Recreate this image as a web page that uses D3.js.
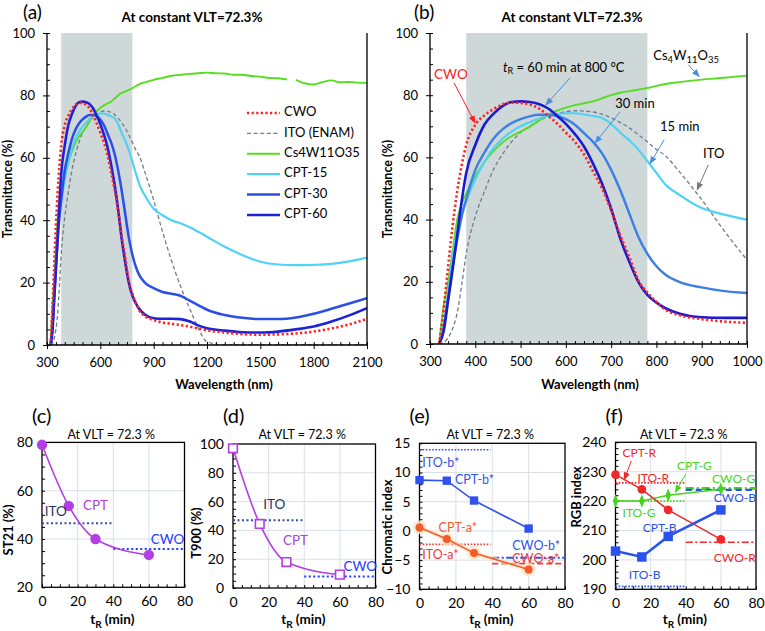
<!DOCTYPE html>
<html><head><meta charset="utf-8">
<script src="https://cdn.jsdelivr.net/npm/d3@7"></script>
<style>
body{margin:0;background:#fff;}
svg{font-family:Lato,"Open Sans",sans-serif;}
</style></head><body>
<svg id="chart" width="765" height="631"></svg>
<script>
// ---------------- DATA ----------------
const lambda = [320,330,340,350,360,370,380,400,420,440,460,480,500,520,540,560,580,600,620,640,660,680,700,720,740,760,780,800,820,850,900,950,1000,1050,1100,1150,1200,1300,1400,1500,1600,1700,1800,1900,2000,2100];
const tCWO  = [0,11,25,38,49,57.5,64,70.5,73.5,75.5,77,77.6,77.5,77,75.8,73.5,71,68,65,61,55.5,50,43,35,28,20.5,16.5,13.5,11,9.3,8,7.2,6.8,6.4,5.9,5.3,4.7,4,3.5,3.3,3.4,3.7,4.3,5.3,6.6,8.4];
const tITO  = [0,0.5,2,5,10,19,29,41,49,56,61,65,68,70,71.8,73,74,74.7,75,74.9,74.6,73.9,72.7,71.2,69.5,67.3,65,62.5,60.5,55.5,46.4,36.3,27.1,19,12,5.5,1,0,0,0,0,0,0,0,0,0];
const tCPT15 = [0,6,16,28,36,42,46,53,58.5,63,66,68.3,70,71.3,72.5,73.3,73.9,74.2,74.2,73.8,73.3,72.7,70.8,68,65.5,62.5,58.8,55,51.3,48,43.7,41.6,40,39,37.8,36.3,34.7,31.5,28.8,26.7,25.8,25.6,25.7,26,26.8,28];
const tCPT30 = [0,5,15,25,33.5,41,46.5,56,61.5,66,69,71,72.3,73.2,73.7,73.7,73.3,72.3,70.5,67.8,65,61.3,56,49.5,42,34.5,29,25,22.3,20,18.2,17,16.4,15.8,14.3,12.8,11.3,9.6,8.7,8.3,8.3,8.8,10,11.6,13.3,15];
const tCPT60 = [0,4,14,24,35,46,55,64,70.5,74,76.5,77.8,78,77.8,77.2,75.8,73.5,70.8,67.5,63.5,58,51.5,43.5,34,26.5,20,15.8,13.3,11.5,9.8,8.6,8.4,8.4,8.3,7.6,6.3,5.4,4.6,4.1,4.0,4.3,5.0,5.9,7.5,9.5,11.8];
const lambdaCs = [320,330,340,350,360,370,380,400,420,440,460,480,500,520,540,560,580,600,620,640,660,680,700,720,740,760,780,800,820,850,900,950,1000,1050,1100,1150,1200,1250,1300,1350,1400,1450,1500,1550,1600,1650,1675,1700,1750,1800,1850,1900,1950,2000,2050,2100];
const tCs = [0,12,20,30,40,45,48.5,54,58.5,62,64.8,66.8,68.3,69.8,71.7,73.6,75,76,76.8,77.4,78,79,80,80.8,81.3,81.8,82.3,83,83.6,84.2,85,85.6,86.3,86.6,86.9,87.1,87.3,87.1,87,86.6,86.6,86.2,86,85.6,85.5,85.1,null,85,83.9,83.5,84.3,84.8,84.2,84.3,84.1,84];
const visibleBand = [380, 780];

const tR = [0, 15, 30, 60];
const st21 = [79, 53.7, 40, 33.4];
const st21ITO = 46.5, st21CWO = 35.9;
const t900 = [97, 44.5, 18, 9.3];
const t900ITO = 47, t900CWO = 8;
const bStar = [8.7, 8.6, 5.2, 0.4];
const aStar = [0.6, -1.4, -3.8, -6.6];
const itoB = 13.9, itoA = -2.3, cwoB = -4.6, cwoA = -5.6;
const rgbR = [229, 224, 217, 207];
const rgbG = [220, 220, 222, 224];
const rgbB = [203, 201, 208, 217];
const itoR = 226.2, itoG = 220, itoBl = 191;
const cwoR = 206, cwoG = 224.3, cwoBl = 223.8;

// ---------------- DRAW ----------------
const svg = d3.select("#chart");
const defs = svg.append("defs");
function arrowMarker(id, color){
  defs.append("marker").attr("id", id).attr("viewBox","0 0 10 10").attr("refX",9).attr("refY",5)
    .attr("markerWidth",8).attr("markerHeight",8).attr("markerUnits","userSpaceOnUse").attr("orient","auto")
    .append("path").attr("d","M0,1 L10,5 L0,9 Z").attr("fill", color);
}
arrowMarker("arBlue","#4a8ee4"); arrowMarker("arRed","#ff2020"); arrowMarker("arGray","#6f7a80");
arrowMarker("arRedF","#f02a2a"); arrowMarker("arGreenF","#44d41e");

function txt(g, x, y, s, o={}){
  return g.append("text").attr("x",x).attr("y",y).text(s)
    .attr("font-size", o.size||13).attr("fill", o.color||"#000")
    .attr("font-weight", o.bold?"bold":"normal")
    .attr("text-anchor", o.anchor||"start")
    .attr("dominant-baseline", o.base||"middle");
}

function styleAxis(sel, size){
  sel.selectAll("text").attr("font-size", size).attr("fill","#000").attr("font-family","Lato,'Open Sans',sans-serif");
  sel.selectAll("line").attr("stroke","#000");
  sel.select(".domain").remove();
}

// ---- spectra panels ----
const seriesMain = [
  {name:"ITO (ENAM)", wl:lambda, v:tITO, color:"#6f7d8a", w:1.3, dash:"4,2.6"},
  {name:"Cs4W11O35", wl:lambdaCs, v:tCs, color:"#55dd22", w:1.9, dash:null},
  {name:"CPT-15", wl:lambda, v:tCPT15, color:"#4fd2f5", w:2.2, dash:null},
  {name:"CPT-30", wl:lambda, v:tCPT30, color:"#2b4ee6", colorB:"#3f80e4", w:2.5, dash:null},
  {name:"CPT-60", wl:lambda, v:tCPT60, color:"#1c22d8", colorB:"#1a1ad0", w:2.6, dash:null},
  {name:"CWO", wl:lambda, v:tCWO, color:"#ff2020", w:2.6, dash:"2.2,2.4"}
];

function spectra(P, xDom, xMajor, xMinorStep, panelKey){
  const g = svg.append("g");
  const x = d3.scaleLinear().domain(xDom).range([P.l, P.r]);
  const y = d3.scaleLinear().domain([0,100]).range([P.b, P.t]);
  const cid = "clip"+panelKey;
  defs.append("clipPath").attr("id",cid).append("rect")
    .attr("x",P.l).attr("y",P.t-5).attr("width",P.r-P.l).attr("height",P.b-P.t+5);
  g.append("rect").attr("x",x(visibleBand[0])).attr("y",y(100))
    .attr("width",x(visibleBand[1])-x(visibleBand[0])).attr("height",y(0)-y(100)).attr("fill","#cfd8d8");
  const lines = g.append("g").attr("clip-path","url(#"+cid+")");
  seriesMain.forEach(s=>{
    const pts = s.wl.map((w,i)=>[w, s.v[i]]).filter(d=>d[0]<=xDom[1]+100);
    const line = d3.line().defined(d=>d[1]!==null).x(d=>x(d[0])).y(d=>y(d[1])).curve(d3.curveMonotoneX);
    lines.append("path").attr("d", line(pts)).attr("fill","none")
      .attr("stroke", panelKey==="b" && s.colorB ? s.colorB : s.color)
      .attr("stroke-width", s.w).attr("stroke-dasharray", s.dash).attr("stroke-linejoin","round");
  });
  const minor = d3.range(xDom[0], xDom[1]+0.1, xMinorStep);
  const yMajor = d3.range(0,101,20), yMinor = d3.range(0,101,5);
  g.append("g").attr("transform",`translate(0,${P.b})`)
    .call(d3.axisBottom(x).tickValues(minor).tickSize(-3).tickFormat("")).call(s=>styleAxis(s,13));
  g.append("g").attr("transform",`translate(0,${P.b})`)
    .call(d3.axisBottom(x).tickValues(xMajor).tickSize(4).tickPadding(9).tickFormat(d3.format("d"))).call(s=>styleAxis(s,13));
  g.append("g").attr("transform",`translate(${P.l},0)`)
    .call(d3.axisLeft(y).tickValues(yMinor).tickSize(-3).tickFormat("")).call(s=>styleAxis(s,13));
  g.append("g").attr("transform",`translate(${P.l},0)`)
    .call(d3.axisLeft(y).tickValues(yMajor).tickSize(4).tickPadding(8)).call(s=>styleAxis(s,13));
  g.append("path").attr("d",`M${P.l},${P.t}V${P.b}H${P.r}V${P.t}`).attr("fill","none").attr("stroke","#000").attr("stroke-width",1.3);
  return {g,x,y};
}

const PA = {l:47, r:367, t:33, b:345};
const PB = {l:430, r:747, t:33, b:344};
const A = spectra(PA, [300,2100], d3.range(300,2101,300), 50, "a");
const B = spectra(PB, [300,1000], d3.range(300,1001,100), 20, "b");

txt(svg, 23, 14, "(a)", {size:19});
txt(svg, 414, 14, "(b)", {size:19});
txt(svg, 192, 19, "At constant VLT=72.3%", {size:13.5, bold:true, anchor:"middle"});
txt(svg, 572, 19, "At constant VLT=72.3%", {size:13.5, bold:true, anchor:"middle"});
[[9,189],[389,189]].forEach(p=>{
  svg.append("text").attr("transform",`translate(${p[0]},${p[1]}) rotate(-90)`).attr("text-anchor","middle")
    .attr("dominant-baseline","middle").attr("font-size",12.5).attr("font-weight","bold").text("Transmittance (%)");
});
txt(svg, 224, 386, "Wavelength (nm)", {size:13, bold:true, anchor:"middle"});
txt(svg, 590, 386, "Wavelength (nm)", {size:13, bold:true, anchor:"middle"});

// legend (a)
const legOrder = ["CWO","ITO (ENAM)","Cs4W11O35","CPT-15","CPT-30","CPT-60"];
legOrder.forEach((n,i)=>{
  const s = seriesMain.find(d=>d.name===n);
  const yy = 113 + i*20.4;
  svg.append("line").attr("x1",247).attr("x2",280).attr("y1",yy).attr("y2",yy)
    .attr("stroke",s.color).attr("stroke-width",s.w).attr("stroke-dasharray",s.dash);
  txt(svg, 284, yy, n, {size:13});
});

// annotations (b)
function arrow(sc, p0, p1, marker, color){
  svg.append("line").attr("x1",sc.x(p0[0])).attr("y1",sc.y(p0[1])).attr("x2",sc.x(p1[0])).attr("y2",sc.y(p1[1]))
    .attr("stroke",color).attr("stroke-width",1).attr("marker-end","url(#"+marker+")");
}
txt(svg, B.x(309), B.y(86.3), "CWO", {size:13.5, color:"#ff2020"});
arrow(B, [353,84], [399.5,71.1], "arRed", "#ff2020");
const tl = txt(svg, B.x(461), B.y(88.5), "", {size:13});
tl.append("tspan").attr("font-style","italic").text("t");
tl.append("tspan").attr("font-size",9).attr("dy",3).text("R");
tl.append("tspan").attr("dy",-3).text(" = 60 min at 800 °C");
arrow(B, [609.5,85.6], [555.8,76.9], "arBlue", "#4a8ee4");
const cs = txt(svg, B.x(793), B.y(92.4), "", {size:13});
[["Cs",0],["4",1],["W",0],["11",1],["O",0],["35",1]].forEach((p,i,arr)=>{
  const prev = i>0 ? arr[i-1][1] : 0;
  const dy = p[1]===prev ? 0 : (p[1] ? 4 : -4);
  const t = cs.append("tspan").attr("dy",dy).text(p[0]);
  if(p[1]) t.attr("font-size",9.5);
});
arrow(B, [870,89.8], [894.6,86], "arBlue", "#4a8ee4");
txt(svg, B.x(709), B.y(77), "30 min", {size:13});
arrow(B, [720,74.7], [664.7,64.7], "arBlue", "#4a8ee4");
txt(svg, B.x(808), B.y(69.5), "15 min", {size:13});
arrow(B, [817,65.7], [786,58], "arBlue", "#4a8ee4");
txt(svg, B.x(903), B.y(60.9), "ITO", {size:13});
arrow(B, [914.5,57.6], [890,49.6], "arGray", "#6f7a80");

// ---- small panels ----
function small(P, yDom, yMajor, yMinor, letter, title, ylab, ylabPos){
  const g = svg.append("g");
  const x = d3.scaleLinear().domain([0,80]).range([P.l, P.r]);
  const y = d3.scaleLinear().domain(yDom).range([P.b, P.t]);
  g.append("g").selectAll("line").data([20,40,60]).join("line")
    .attr("x1",d=>x(d)).attr("x2",d=>x(d)).attr("y1",P.t).attr("y2",P.b).attr("stroke","#d8e0e8").attr("stroke-width",1);
  g.append("g").selectAll("line").data(yMajor.slice(1,-1)).join("line")
    .attr("y1",d=>y(d)).attr("y2",d=>y(d)).attr("x1",P.l).attr("x2",P.r).attr("stroke","#d8e0e8").attr("stroke-width",1);
  g.append("g").attr("transform",`translate(0,${P.b})`)
    .call(d3.axisBottom(x).tickValues(d3.range(0,81,5)).tickSize(-3).tickFormat("")).call(s=>styleAxis(s,14));
  g.append("g").attr("transform",`translate(0,${P.b})`)
    .call(d3.axisBottom(x).tickValues([0,20,40,60,80]).tickSize(0).tickPadding(9)).call(s=>styleAxis(s,14));
  g.append("g").attr("transform",`translate(${P.l},0)`)
    .call(d3.axisLeft(y).tickValues(yMinor).tickSize(-3).tickFormat("")).call(s=>styleAxis(s,14));
  g.append("g").attr("transform",`translate(${P.l},0)`)
    .call(d3.axisLeft(y).tickValues(yMajor).tickSize(0).tickPadding(9)).call(s=>styleAxis(s,14));
  g.append("rect").attr("x",P.l).attr("y",P.t).attr("width",P.r-P.l).attr("height",P.b-P.t)
    .attr("fill","none").attr("stroke","#000").attr("stroke-width",1.3);
  txt(svg, P.l-10, 418, "("+letter+")", {size:20});
  txt(svg, (P.l+P.r)/2-2, 436, title, {size:12.5, anchor:"middle"});
  svg.append("text").attr("transform",`translate(${ylabPos[0]},${ylabPos[1]}) rotate(-90)`).attr("text-anchor","middle")
    .attr("dominant-baseline","middle").attr("font-size",13).attr("font-weight","bold").text(ylab);
  const xl = txt(svg, (P.l+P.r)/2-1, 621, "", {size:13.5, bold:true, anchor:"middle"});
  xl.append("tspan").text("t");
  xl.append("tspan").attr("font-size",10).attr("dy",4).text("R");
  xl.append("tspan").attr("dy",-4).text(" (min)");
  return {g,x,y};
}
function hline(S, v, x0, x1, color, dash, w){
  S.g.append("line").attr("x1",S.x(x0)).attr("x2",S.x(x1)).attr("y1",S.y(v)).attr("y2",S.y(v))
    .attr("stroke",color).attr("stroke-width",w||2).attr("stroke-dasharray",dash);
}
function series(S, ys, color, w, curve){
  const line = d3.line().x((d,i)=>S.x(tR[i])).y(d=>S.y(d)).curve(curve||d3.curveLinear);
  return S.g.append("path").attr("d",line(ys)).attr("fill","none").attr("stroke",color).attr("stroke-width",w);
}
function markers(S, ys, type, size, fill, stroke, sw){
  return S.g.append("g").selectAll("path").data(ys).join("path")
    .attr("transform",(d,i)=>`translate(${S.x(tR[i])},${S.y(d)})${type===d3.symbolDiamond?" scale(0.8,1.15)":""}`)
    .attr("d", d3.symbol().type(type).size(size)).attr("fill",fill).attr("stroke",stroke||"none").attr("stroke-width",sw||0);
}
const TITLE = "At VLT = 72.3 %";
const PURPLE = "#b23ee4";

// (c)
const C = small({l:42, r:184.5, t:442.4, b:587.3}, [20,80], [20,40,60,80], d3.range(20,81,5), "c", TITLE, "ST21 (%)", [10,530]);
hline(C, st21ITO, 0, 40, "#34509a", "2,2.5", 2);
hline(C, st21CWO, 40, 80, "#1e3cff", "2,2.5", 2);
series(C, st21, PURPLE, 1.6, d3.curveMonotoneX);
markers(C, st21, d3.symbolCircle, 85, PURPLE);
txt(svg, C.x(1.5), C.y(51), "ITO", {size:13.5, color:"#1f3864"});
txt(svg, C.x(23), C.y(53.5), "CPT", {size:13.5, color:PURPLE});
txt(svg, C.x(61), C.y(39.5), "CWO", {size:13.5, color:"#1e3cff"});

// (d)
const D = small({l:233, r:375.5, t:444, b:588}, [0,100], [0,20,40,60,80,100], d3.range(0,101,5), "d", TITLE, "T900 (%)", [198,533]);
hline(D, t900ITO, 0, 40, "#34509a", "2,2.5", 2);
hline(D, t900CWO, 40, 80, "#1e3cff", "2,2.5", 2);
series(D, t900, PURPLE, 1.6, d3.curveMonotoneX);
markers(D, t900, d3.symbolSquare, 75, "#fff", PURPLE, 1.6);
txt(svg, D.x(17), D.y(57), "ITO", {size:13.5, color:"#1f3864"});
txt(svg, D.x(28), D.y(32), "CPT", {size:13.5, color:PURPLE});
txt(svg, D.x(62), D.y(14.5), "CWO", {size:13.5, color:"#1e3cff"});

// (e)
const E = small({l:419.5, r:565, t:443.3, b:589.3}, [-10,15], [-10,-5,0,5,10,15], d3.range(-10,15.1,1), "e", TITLE, "Chromatic index", [389,527]);
const BLUE_E = "#2f52ee", ORANGE = "#f45a2c";
hline(E, itoB, 0, 39, BLUE_E, "1.6,1.6", 1.6);
hline(E, itoA, 0, 39, "#f03a3a", "1.6,1.6", 1.6);
hline(E, cwoB, 40, 80, BLUE_E, "7,2.5,2,2.5", 2);
hline(E, cwoA, 40, 80, "#f03a3a", "6,3", 1.6);
series(E, aStar, "#fde3bd", 5).attr("opacity",0.6);
markers(E, aStar, d3.symbolCircle, 150, "#fde3bd").attr("opacity",0.8);
series(E, bStar, BLUE_E, 1.6);
series(E, aStar, ORANGE, 1.6);
markers(E, bStar, d3.symbolSquare, 70, BLUE_E);
markers(E, aStar, d3.symbolCircle, 50, ORANGE);
txt(svg, E.x(1.5), E.y(11.4), "ITO-b*", {size:12.5, color:BLUE_E});
txt(svg, E.x(19.5), E.y(8.5), "CPT-b*", {size:12.5, color:BLUE_E});
txt(svg, E.x(10.5), E.y(0.4), "CPT-a*", {size:12.5, color:ORANGE});
txt(svg, E.x(1.5), E.y(-4.3), "ITO-a*", {size:12.5, color:"#f03a3a"});
txt(svg, E.x(51), E.y(-2.7), "CWO-b*", {size:12.5, color:BLUE_E});
txt(svg, E.x(51), E.y(-5.0), "CWO-a*", {size:12.5, color:"#f03a3a"});

// (f)
const F = small({l:615.5, r:756, t:442.3, b:589.3}, [190,240], [190,200,210,220,230,240], d3.range(190,240.1,2), "f", TITLE, "RGB index", [578,497]);
const RED = "#f0282a", GREEN = "#44d41e", BLUE_F = "#2a52ee";
hline(F, itoR, 0, 40, RED, "1.6,1.6", 1.6);
hline(F, itoG, 0, 40, GREEN, "1.6,1.6", 1.6);
hline(F, itoBl, 0, 40, BLUE_F, "1.6,1.6", 1.6);
hline(F, cwoG, 40, 80, GREEN, "8,3,2,3", 3);
hline(F, cwoBl, 40, 80, BLUE_F, "6,4", 2.2);
hline(F, cwoR, 40, 80, RED, "7,2.5,2,2.5", 1.6);
series(F, rgbG, GREEN, 1.5);
series(F, rgbR, RED, 1.5);
series(F, rgbB, BLUE_F, 2.6);
markers(F, rgbG, d3.symbolDiamond, 40, GREEN);
markers(F, rgbR, d3.symbolCircle, 60, RED);
markers(F, rgbB, d3.symbolSquare, 90, BLUE_F);
const FS = 12;
txt(svg, F.x(4), F.y(236.2), "CPT-R", {size:FS, color:RED});
arrow(F, [9,233.7], [5,227.3], "arRedF", RED);
txt(svg, F.x(12.5), F.y(227.4), "ITO-R", {size:FS, color:RED});
txt(svg, F.x(35), F.y(231.5), "CPT-G", {size:FS, color:GREEN});
arrow(F, [40,229.2], [34,223], "arGreenF", GREEN);
txt(svg, F.x(55), F.y(227.2), "CWO-G", {size:FS, color:GREEN});
txt(svg, F.x(56), F.y(220.8), "CWO-B", {size:FS, color:BLUE_F});
txt(svg, F.x(4), F.y(215.6), "ITO-G", {size:FS, color:GREEN});
txt(svg, F.x(15.5), F.y(210.5), "CPT-B", {size:FS, color:BLUE_F});
txt(svg, F.x(7.5), F.y(194.4), "ITO-B", {size:FS, color:BLUE_F});
txt(svg, F.x(56), F.y(200.4), "CWO-R", {size:FS, color:RED});
</script>
</body></html>
